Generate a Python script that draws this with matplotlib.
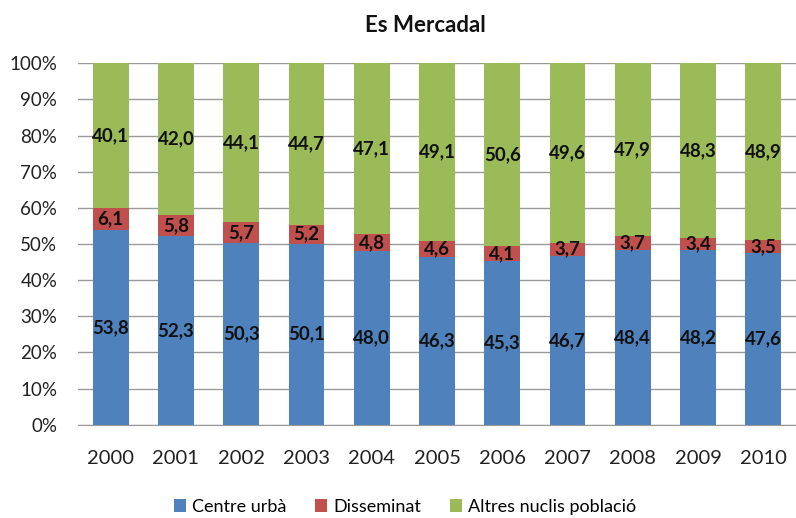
import numpy as np
import matplotlib.pyplot as plt
from matplotlib.ticker import PercentFormatter

plt.rcParams['font.family'] = ['Lato', 'DejaVu Sans']

years = ['2000', '2001', '2002', '2003', '2004', '2005', '2006', '2007', '2008', '2009', '2010']
centre = [53.8, 52.3, 50.3, 50.1, 48.0, 46.3, 45.3, 46.7, 48.4, 48.2, 47.6]
disseminat = [6.1, 5.8, 5.7, 5.2, 4.8, 4.6, 4.1, 3.7, 3.7, 3.4, 3.5]
altres = [40.1, 42.0, 44.1, 44.7, 47.1, 49.1, 50.6, 49.6, 47.9, 48.3, 48.9]
series = [('Centre urbà', centre, '#4F81BD'),
          ('Disseminat', disseminat, '#C0504D'),
          ('Altres nuclis població', altres, '#9BBB59')]

fig = plt.figure(figsize=(7.96, 5.18), dpi=100)
ax = fig.add_axes([0.098, 0.180, 0.902, 0.698])

x = np.arange(len(years))
tot = np.array(centre) + np.array(disseminat) + np.array(altres)
bottom = np.zeros(len(years))
for name, vals, col in series:
    vals = np.array(vals)
    share = vals / tot * 100
    ax.bar(x, share, 0.55, bottom=bottom, color=col, label=name, zorder=2)
    for xi, b, s, v in zip(x, bottom, share, vals):
        ax.text(xi, b + s / 2, ('%.1f' % v).replace('.', ','), ha='center', va='center',
                fontsize=13.5, fontweight='bold', color='#111111', zorder=3)
    bottom += share

ax.set_xlim(-0.5, len(years) - 0.5)
ax.set_ylim(0, 100)
ax.set_yticks(np.arange(0, 101, 10))
ax.yaxis.set_major_formatter(PercentFormatter(decimals=0))
ax.set_xticks(x)
ax.set_xticklabels(years)
ax.grid(axis='y', color='#999999', lw=1, zorder=0)
for s in ['top', 'right', 'left']:
    ax.spines[s].set_visible(False)
ax.spines['bottom'].set_color('#999999')
ax.tick_params(axis='y', length=0, pad=15, labelsize=13.5, labelcolor='#222222')
ax.tick_params(axis='x', length=0, pad=18, labelsize=14.5, labelcolor='#222222')
fig.text(425 / 796, 1 - 25 / 518, 'Es Mercadal', fontsize=16, fontweight='bold',
         ha='center', va='center', color='#111111')

ax.legend(loc='upper center', bbox_to_anchor=(0.455, -0.16), ncol=3, frameon=False,
          fontsize=13, handlelength=0.7, handleheight=0.7, handletextpad=0.3, columnspacing=1.6)

fig.savefig('out.png', dpi=100)
